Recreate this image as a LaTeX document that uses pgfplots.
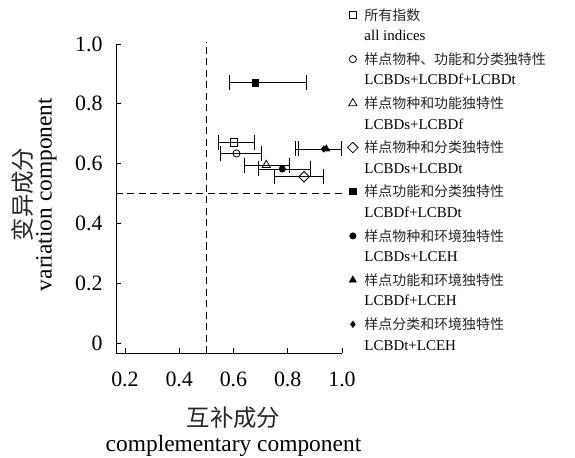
\documentclass[border=0pt]{standalone}
\usepackage{pgfplots}
\pgfplotsset{compat=1.18}
\usepackage{fontspec}
\setmainfont{Liberation Serif}
\newfontfamily\cjk{Noto Sans CJK SC}
\newcommand{\lgt}[2]{\makebox[0pt][l]{\smash{\raisebox{-20.5bp}{#2}}}{\cjk\fontsize{14}{16}\selectfont\color{black!85}#1}\rule[-3bp]{0pt}{15bp}}
\begin{document}
\begin{tikzpicture}
\useasboundingbox (-116bp,-105bp) rectangle (459bp,353bp);
\begin{axis}[
  scale only axis,
  width=226bp, height=309bp,
  xmin=0.167, xmax=1.0, ymin=-0.0334, ymax=1.0,
  axis x line*=bottom, axis y line*=left,
  axis line style={-, line width=0.9pt},
  tick align=inside,
  major tick length=5.5bp,
  tick style={line width=0.9pt, black},
  xtick={0.2,0.4,0.6,0.8,1.0},
  xticklabels={0.2,0.4,0.6,0.8,1.0},
  ytick={0,0.2,0.4,0.6,0.8,1.0},
  yticklabels={0,0.2,0.4,0.6,0.8,1.0},
  ticklabel style={font=\fontsize{22}{24}\selectfont},
  xticklabel style={yshift=-15bp},
  yticklabel style={xshift=-10bp},
  clip=false,
  x label style={at={(axis description cs:0.5,0)}, anchor=north, yshift=-54bp, xshift=4.5bp, align=center, inner sep=0pt, font=\fontsize{23.5}{25}\selectfont},
  xlabel={{\cjk\color{black!85}互补成分}\\complementary component},
  y label style={at={(axis description cs:-0.262,0.513)}, anchor=south, align=center, inner sep=0pt, font=\fontsize{23.5}{20}\selectfont},
  ylabel={{\cjk\color{black!85}变异成分}\\variation component},
  legend style={at={(rel axis cs:1.024,1.1165)}, anchor=north west, draw=none, fill=none, inner sep=0pt, column sep=6.4bp, row sep=30.7bp, font=\fontsize{15}{17}\selectfont, nodes={inner sep=0pt}},
  legend cell align=left,
  legend image code/.code={\draw[#1] plot coordinates {(0bp,0bp)};},
  error bars/x dir=both, error bars/x explicit,
  error bars/error bar style={line width=0.8pt, black},
  error bars/error mark options={rotate=90, mark size=7.5bp, line width=0.8pt, black},
]
\addplot[black, dash pattern=on 7bp off 4.5bp, line width=0.9pt, forget plot] coordinates {(0.5,-0.0334) (0.5,1.007)};
\addplot[black, dash pattern=on 7bp off 4.5bp, line width=0.9pt, forget plot] coordinates {(0.167,0.5) (1.01,0.5)};

\addplot[black, only marks, mark=square, mark size=3.6bp, line width=0.8pt] coordinates {(0.602,0.671) -= (0.057,0) += (0.076,0)};
\addlegendentry{\lgt{所有指数}{all indices}}
\addplot[black, only marks, mark=o, mark size=3.6bp, line width=0.8pt] coordinates {(0.611,0.634) -= (0.061,0) += (0.093,0)};
\addlegendentry{\lgt{样点物种、功能和分类独特性}{LCBDs+LCBDf+LCBDt}}
\addplot[black, only marks, mark=triangle, mark size=4.8bp, line width=0.8pt] coordinates {(0.721,0.595) -= (0.080,0) += (0.086,0)};
\addlegendentry{\lgt{样点物种和功能独特性}{LCBDs+LCBDf}}
\addplot[black, only marks, mark=square, mark size=3.7bp, mark options={rotate=45}, line width=0.8pt] coordinates {(0.860,0.556) -= (0.108,0) += (0.072,0)};
\addlegendentry{\lgt{样点物种和分类独特性}{LCBDs+LCBDt}}
\addplot[black, only marks, mark=square*, mark size=3.1bp, line width=0.8pt] coordinates {(0.682,0.870) -= (0.097,0) += (0.185,0)};
\addlegendentry{\lgt{样点功能和分类独特性}{LCBDf+LCBDt}}
\addplot[black, only marks, mark=*, mark size=3.1bp, line width=0.8pt] coordinates {(0.780,0.582) -= (0.087,0) += (0.103,0)};
\addlegendentry{\lgt{样点物种和环境独特性}{LCBDs+LCEH}}
\addplot[black, only marks, mark=triangle*, mark size=3.9bp, line width=0.8pt] coordinates {(0.942,0.649) -= (0.103,0) += (0.055,0)};
\addlegendentry{\lgt{样点功能和环境独特性}{LCBDf+LCEH}}
\addplot[black, only marks, mark=diamond*, mark size=3bp, line width=0.8pt] coordinates {(0.933,0.649) -= (0.106,0) += (0.064,0)};
\addlegendentry{\lgt{样点分类和环境独特性}{LCBDt+LCEH}}
\end{axis}
\end{tikzpicture}
\end{document}
